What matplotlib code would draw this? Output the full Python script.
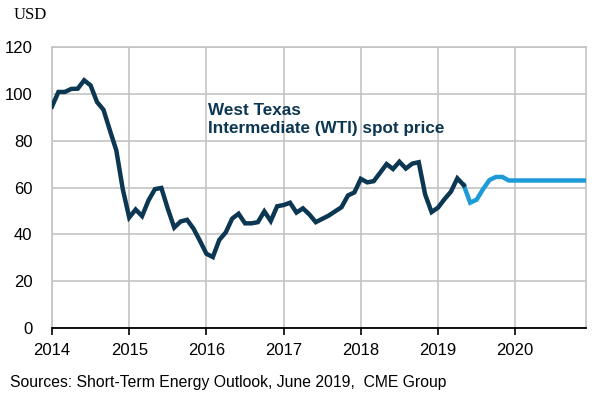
import numpy as np
import matplotlib
matplotlib.use("Agg")
from matplotlib import pyplot as plt

# monthly WTI spot price, Jan 2014 - May 2019 (history)
wti_actual = [
    94.6, 100.8, 100.8, 102.1, 102.2, 105.8, 103.6, 96.5, 93.2, 84.4, 75.8, 59.3,   # 2014
    47.2, 50.6, 47.8, 54.5, 59.3, 59.8, 50.9, 42.9, 45.5, 46.2, 42.4, 37.2,        # 2015
    31.7, 30.3, 37.6, 40.8, 46.7, 48.8, 44.7, 44.7, 45.2, 49.8, 45.7, 52.0,        # 2016
    52.5, 53.5, 49.3, 51.1, 48.5, 45.2, 46.6, 48.0, 49.8, 51.6, 56.6, 57.9,        # 2017
    63.7, 62.2, 62.7, 66.3, 70.0, 67.9, 71.0, 68.1, 70.2, 70.8, 57.0, 49.5,        # 2018
    51.4, 55.0, 58.2, 63.9, 61.0,                                                  # 2019
]
# futures path, May 2019 - Dec 2020
wti_futures = [
    61.0, 53.5, 54.8, 59.3, 63.2, 64.5, 64.5, 63.0,
    63.0, 63.0, 63.0, 63.0, 63.0, 63.0, 63.0, 63.0, 63.0, 63.0, 63.0, 63.0,
]
years = ["2014", "2015", "2016", "2017", "2018", "2019", "2020"]
y_ticks = [0, 20, 40, 60, 80, 100, 120]

dark = "#0c3752"
light = "#1d9bd8"
grid_c = "#c4c4c4"

plt.rcParams["font.family"] = ["Liberation Sans", "DejaVu Sans"]

fig = plt.figure(figsize=(6, 4), dpi=100)
ax = fig.add_axes([52 / 600, 1 - 328 / 400, (586 - 52) / 600, (328 - 47) / 400])

x_act = np.arange(len(wti_actual))
x_fut = np.arange(len(wti_actual) - 1, len(wti_actual) - 1 + len(wti_futures))

ax.plot(x_fut, wti_futures, color=light, lw=3.2, solid_joinstyle="miter", zorder=3)
ax.plot(x_act, wti_actual, color=dark, lw=3.2, solid_joinstyle="miter", zorder=4)

ax.set_xlim(0, 83)
ax.set_ylim(0, 120)
ax.set_xticks(np.arange(len(years)) * 12)
ax.set_xticklabels(years, fontsize=12)
ax.set_yticks(y_ticks)
ax.set_yticklabels([str(v) for v in y_ticks], fontsize=12)

ax.grid(True, color=grid_c, lw=1.2)
ax.set_axisbelow(True)
for s in ["left", "top", "right"]:
    ax.spines[s].set_color(grid_c)
    ax.spines[s].set_linewidth(1.2)
ax.spines["bottom"].set_color("black")
ax.spines["bottom"].set_linewidth(1.3)
ax.spines["bottom"].set_zorder(5)

ax.tick_params(axis="x", direction="out", length=5, width=1.2, pad=6)
ax.tick_params(axis="y", length=0, pad=14)

ax.text(0.292, 0.80, "West Texas\nIntermediate (WTI) spot price",
        transform=ax.transAxes, fontsize=12.3, fontweight="bold",
        color=dark, va="top", ha="left", linespacing=1.2)

fig.text(14 / 600, 1 - 15 / 400, "USD", fontsize=12, family="Liberation Serif",
         va="center", ha="left")
fig.text(10 / 600, 1 - 383 / 400,
         "Sources: Short-Term Energy Outlook, June 2019,  CME Group",
         fontsize=11.3, va="center", ha="left")

fig.savefig("out.png", dpi=100)
